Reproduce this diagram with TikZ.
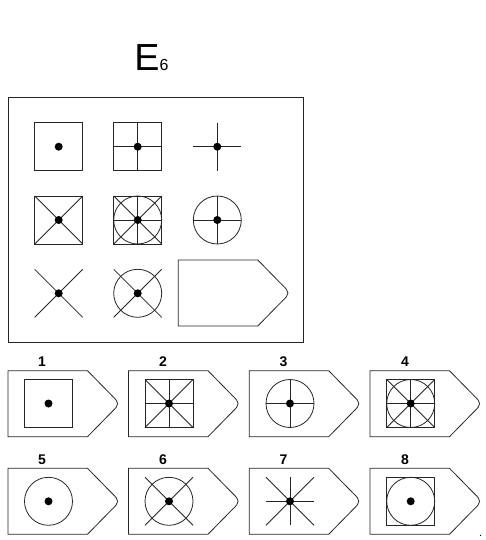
\documentclass[tikz,border=0pt]{standalone}
\usepackage{fontspec}
\setmainfont{Liberation Sans}
\begin{document}
\begin{tikzpicture}[x=1pt,y=-1pt,line width=0.8pt,
  ln/.style={draw=black!85},
  sq/.pic={\draw[ln] (-24,-24) rectangle (24,24);},
  crs/.pic={\draw[ln] (-24,0)--(24,0) (0,-24)--(0,24);},
  xx/.pic={\draw[ln] (-24,-24)--(24,24) (-24,24)--(24,-24);},
  circ/.pic={\draw[ln] (0,0) circle[radius=24];},
  dt/.pic={\fill (0,0) circle[radius=4];},
  penta/.pic={\draw[ln] (0,0)--(79.5,0)--(104,25) .. controls (111.5,32) and (111.5,34) .. (104,41)--(79.5,66)--(0,66)--cycle;},
  lbl/.style={font=\bfseries\fontsize{14}{14}\selectfont,anchor=base,inner sep=0pt}]
\useasboundingbox (0,0) rectangle (486,540);
% title
\node[anchor=base west,inner sep=0pt] (title) at (134,70.7)
  {\fontsize{37.7}{38}\selectfont E\fontsize{16}{16}\selectfont 6};
% main frame
\draw[ln] (8,97) rectangle (303,342);
% row 1
\pic at (58.7,146.7) {sq}; \pic at (58.7,146.7) {dt};
\pic at (137.7,146.7) {sq}; \pic at (137.7,146.7) {crs}; \pic at (137.7,146.7) {dt};
\pic at (217.3,146.7) {crs}; \pic at (217.3,146.7) {dt};
% row 2
\pic at (58.7,220) {sq}; \pic at (58.7,220) {xx}; \pic at (58.7,220) {dt};
\pic at (137.7,220) {sq}; \pic at (137.7,220) {circ}; \pic at (137.7,220) {crs}; \pic at (137.7,220) {xx}; \pic at (137.7,220) {dt};
\pic at (217.3,220) {circ}; \pic at (217.3,220) {crs}; \pic at (217.3,220) {dt};
% row 3
\pic at (58.7,293.3) {xx}; \pic at (58.7,293.3) {dt};
\pic at (137.7,293.3) {circ}; \pic at (137.7,293.3) {xx}; \pic at (137.7,293.3) {dt};
\pic at (178.3,260) {penta};
% answers row 1 (top 370.7)
\pic at (8,370.7) {penta};
\pic at (48.5,403.5) {sq}; \pic at (48.5,403.5) {dt};
\node[lbl] (l1) at (42,366.7) {1};
\pic at (128.5,370.7) {penta};
\pic at (169,403.5) {sq}; \pic at (169,403.5) {crs}; \pic at (169,403.5) {xx}; \pic at (169,403.5) {dt};
\node[lbl] (l2) at (163,366.7) {2};
\pic at (249.2,370.7) {penta};
\pic at (290,403.5) {circ}; \pic at (290,403.5) {crs}; \pic at (290,403.5) {dt};
\node[lbl] (l3) at (283.5,366.7) {3};
\pic at (370,370.7) {penta};
\pic at (410.7,403.5) {sq}; \pic at (410.7,403.5) {circ}; \pic at (410.7,403.5) {crs}; \pic at (410.7,403.5) {xx}; \pic at (410.7,403.5) {dt};
\node[lbl] (l4) at (405,366.7) {4};
% answers row 2 (top 468.3)
\pic at (8,468.3) {penta};
\pic at (48.5,501.3) {circ}; \pic at (48.5,501.3) {dt};
\node[lbl] (l5) at (42,464) {5};
\pic at (128.5,468.3) {penta};
\pic at (169,501.3) {circ}; \pic at (169,501.3) {xx}; \pic at (169,501.3) {dt};
\node[lbl] (l6) at (163,464) {6};
\pic at (249.2,468.3) {penta};
\pic at (290,501.3) {crs}; \pic at (290,501.3) {xx}; \pic at (290,501.3) {dt};
\node[lbl] (l7) at (283.5,464) {7};
\pic at (370,468.3) {penta};
\pic at (410.7,501.3) {sq}; \pic at (410.7,501.3) {circ}; \pic at (410.7,501.3) {dt};
\node[lbl] (l8) at (405,464) {8};
% tiny mark bottom right
\fill (480.5,535.5) circle[radius=0.6];
\end{tikzpicture}
\end{document}
